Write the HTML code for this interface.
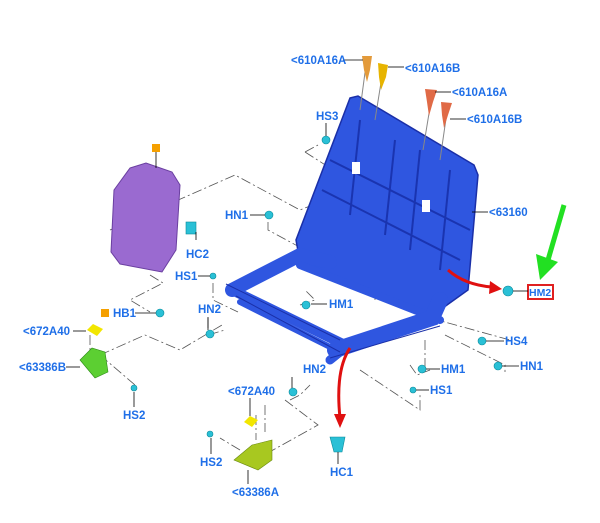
<!DOCTYPE html>
<html><head><meta charset="utf-8"><style>
html,body{margin:0;padding:0;background:#fff;}
svg{display:block}
text{font-family:"Liberation Sans",Arial,sans-serif;font-weight:bold;font-size:11.5px;fill:#1f6fe8;}
</style></head><body>
<svg width="600" height="523" viewBox="0 0 600 523" xmlns="http://www.w3.org/2000/svg">
<g fill="none" stroke="#555" stroke-width="0.8" stroke-dasharray="10,3,2,3">
<path d="M305,152 L318,145 M305,152 L330,168"/>
<path d="M110,230 L235,175 L300,210 L325,200"/>
<path d="M268,222 L268,230 L305,250"/>
<path d="M213,283 L213,300 L238,312"/>
<path d="M150,275 L163,283 L130,300 L150,312"/>
<path d="M100,355 L145,335 L180,350 L222,325"/>
<path d="M100,355 L135,385 L132,392"/>
<path d="M208,318 L208,335 L225,330"/>
<path d="M300,305 L315,300 L305,290"/>
<path d="M375,300 L375,285"/>
<path d="M410,365 L417,375 L430,370 M425,340 L425,370"/>
<path d="M360,370 L420,410 L420,395"/>
<path d="M430,318 L510,340 M445,335 L505,365 L505,372"/>
<path d="M290,400 L300,395 L310,385 M285,400 L318,425 L255,460"/>
<path d="M240,450 L220,438 M256,415 L256,440"/>
<path d="M90,335 L90,350 M265,405 L265,432"/>
</g>
<!-- seat back -->
<polygon points="350,98 358,96 474,165 478,175 468,290 440,310 430,318 300,262 296,240" fill="#2f56e0" stroke="#1a2fa8" stroke-width="1.5"/>
<g stroke="#1a34b0" stroke-width="2" fill="none">
<path d="M330,160 L470,230 M322,190 L460,260 M360,120 L350,215 M395,140 L385,235 M420,150 L410,250 M450,170 L440,270"/>
</g>
<rect x="352" y="162" width="8" height="12" fill="#fff"/><rect x="422" y="200" width="8" height="12" fill="#fff"/>
<!-- seat base -->
<g fill="none" stroke="#2f56e0" stroke-linecap="round">
<path d="M232,290 L300,255 L330,262" stroke-width="14"/>
<path d="M232,290 L345,345" stroke-width="10"/>
<path d="M240,302 L330,347" stroke-width="6"/>
<path d="M300,265 L440,320" stroke-width="8"/>
<path d="M335,350 L432,318 L440,300" stroke-width="16"/>
<path d="M345,348 L330,360" stroke-width="9"/>
</g>
<g fill="none" stroke="#1a2fa8" stroke-width="1">
<path d="M226,284 L340,340 M236,296 L340,352 M330,358 L440,326"/>
</g>
<!-- purple cushion -->
<path d="M130,168 L146,163 L172,172 L180,185 L176,250 L162,272 L120,264 L111,252 L114,190 Z" fill="#9a6ad0" stroke="#6a3fa0" stroke-width="1"/>
<rect x="152" y="144" width="8" height="8" fill="#f5a000"/>
<line x1="156" y1="152" x2="156" y2="168" stroke="#000" stroke-width="0.8"/>
<rect x="101" y="309" width="8" height="8" fill="#f5a000"/>
<!-- bolts -->
<g stroke="#888" stroke-width="1">
<line x1="366" y1="65" x2="360" y2="110"/><line x1="383" y1="70" x2="375" y2="120"/>
<line x1="432" y1="95" x2="423" y2="150"/><line x1="448" y1="105" x2="440" y2="160"/>
</g>
<path d="M362,56 L372,56 L370,70 L367,82 L364,70 Z" fill="#e39a3a"/>
<path d="M378,63 L388,65 L386,77 L381,90 L379,77 Z" fill="#e7b400"/>
<path d="M425,89 L437,90 L433,102 L429,116 L427,102 Z" fill="#e06a46"/>
<path d="M441,102 L452,103 L448,115 L444,128 L442,115 Z" fill="#e06a46"/>
<!-- cyan small parts -->
<g fill="#2ac0d6" stroke="#0a8a9a" stroke-width="0.6">
<circle cx="269" cy="215" r="4"/><circle cx="326" cy="140" r="4"/><circle cx="213" cy="276" r="3"/>
<circle cx="508" cy="291" r="5"/><circle cx="160" cy="313" r="4"/><circle cx="210" cy="334" r="4"/>
<circle cx="306" cy="305" r="4"/><circle cx="498" cy="366" r="4"/><circle cx="482" cy="341" r="4"/>
<circle cx="422" cy="369" r="4"/><circle cx="413" cy="390" r="3"/><circle cx="293" cy="392" r="4"/>
<circle cx="134" cy="388" r="3"/><circle cx="210" cy="434" r="3"/>
<rect x="186" y="222" width="10" height="12"/>
<path d="M330,437 L345,437 L342,452 L334,452 Z"/>
</g>
<!-- yellow/green -->
<path d="M87,330 L93,324 L103,329 L97,336 Z" fill="#f2e600"/>
<path d="M80,360 L92,348 L105,352 L108,372 L95,378 Z" fill="#5ccf32" stroke="#2c8a16" stroke-width="0.6"/>
<path d="M244,422 L250,416 L258,420 L252,427 Z" fill="#f2e600"/>
<path d="M234,460 L252,445 L272,440 L272,460 L258,470 Z" fill="#a8c820" stroke="#6a8a10" stroke-width="0.6"/>
<!-- red arrows -->
<path d="M448,270 Q465,285 492,287" fill="none" stroke="#e01010" stroke-width="3"/>
<polygon points="490,281 502,289 489,294" fill="#e01010"/>
<path d="M350,348 Q335,370 340,418" fill="none" stroke="#e01010" stroke-width="3"/>
<polygon points="334,414 346,414 340,428" fill="#e01010"/>
<!-- green arrow -->
<path d="M564,205 L548,260" stroke="#22e022" stroke-width="5"/>
<polygon points="536,254 558,262 540,280" fill="#22e022"/>
<rect x="528" y="285" width="25" height="14" fill="none" stroke="#e02020" stroke-width="2"/>
<!-- leader lines -->
<g stroke="#000" stroke-width="0.8">
<line x1="343" y1="60" x2="363" y2="60"/><line x1="388" y1="67" x2="404" y2="67"/>
<line x1="435" y1="92" x2="451" y2="92"/><line x1="450" y1="119" x2="466" y2="119"/>
<line x1="326" y1="123" x2="326" y2="136"/><line x1="472" y1="212" x2="488" y2="212"/>
<line x1="250" y1="215" x2="265" y2="215"/><line x1="196" y1="240" x2="196" y2="232"/>
<line x1="198" y1="276" x2="210" y2="276"/><line x1="208" y1="317" x2="208" y2="330"/>
<line x1="311" y1="304" x2="327" y2="304"/><line x1="513" y1="291" x2="528" y2="291"/>
<line x1="135" y1="313" x2="156" y2="313"/><line x1="73" y1="331" x2="86" y2="331"/>
<line x1="66" y1="367" x2="80" y2="367"/><line x1="134" y1="392" x2="134" y2="407"/>
<line x1="292" y1="377" x2="292" y2="388"/><line x1="250" y1="398" x2="250" y2="416"/>
<line x1="211" y1="438" x2="211" y2="454"/><line x1="248" y1="470" x2="248" y2="484"/>
<line x1="338" y1="452" x2="338" y2="464"/><line x1="486" y1="341" x2="504" y2="341"/>
<line x1="502" y1="366" x2="519" y2="366"/><line x1="426" y1="369" x2="440" y2="369"/>
<line x1="416" y1="390" x2="429" y2="390"/>
</g>
<text x="291" y="64">&lt;610A16A</text>
<text x="405" y="72">&lt;610A16B</text>
<text x="452" y="96">&lt;610A16A</text>
<text x="467" y="123">&lt;610A16B</text>
<text x="316" y="120">HS3</text>
<text x="489" y="216">&lt;63160</text>
<text x="225" y="219">HN1</text>
<text x="186" y="258">HC2</text>
<text x="175" y="280">HS1</text>
<text x="198" y="313">HN2</text>
<text x="329" y="308">HM1</text>
<text x="529" y="296" style="font-size:10.5px">HM2</text>
<text x="113" y="317">HB1</text>
<text x="23" y="335">&lt;672A40</text>
<text x="19" y="371">&lt;63386B</text>
<text x="123" y="419">HS2</text>
<text x="303" y="373">HN2</text>
<text x="228" y="395">&lt;672A40</text>
<text x="200" y="466">HS2</text>
<text x="232" y="496">&lt;63386A</text>
<text x="330" y="476">HC1</text>
<text x="505" y="345">HS4</text>
<text x="520" y="370">HN1</text>
<text x="441" y="373">HM1</text>
<text x="430" y="394">HS1</text>
</svg>
</body></html>
